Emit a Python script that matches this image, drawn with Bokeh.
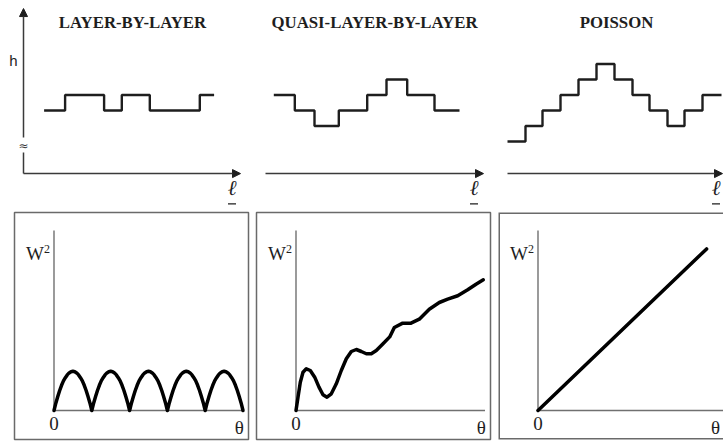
from bokeh.plotting import figure
from bokeh.layouts import row, column
from bokeh.models import Range1d, Arrow, NormalHead
from bokeh.core.properties import value
from bokeh.embed import file_html
from bokeh.resources import INLINE

# ---- growth modes
titles = ["LAYER-BY-LAYER", "QUASI-LAYER-BY-LAYER", "POISSON"]

# ---- surface height profiles h(l): step edges along l and the layer level between edges
lbl_edges = [2.06, 4.16, 8.06, 9.83, 12.63, 17.63, 19.06]
lbl_levels = [0, 1, 0, 1, 0, 1]

qlbl_edges = [0.83, 2.93, 4.90, 7.33, 10.17, 12.10, 14.17, 16.90, 19.40]
qlbl_levels = [1, 0, -1, 0, 1, 2, 1, 0]

poi_edges = [0.0, 1.8, 3.5, 5.3, 7.1, 8.9, 10.7, 12.5, 14.2, 16.0, 17.7, 19.5, 21.4]
poi_levels = [-2, -1, 0, 1, 2, 3, 2, 1, 0, -1, 0, 1]

# ---- roughness W^2 against coverage theta (monolayers)
n_layers = 5
arch_frac = [0.0, 0.05, 0.1, 0.15, 0.2, 0.25, 0.3, 0.35, 0.4, 0.45, 0.5,
             0.55, 0.6, 0.65, 0.7, 0.75, 0.8, 0.85, 0.9, 0.95, 1.0]
arch_w2 = [0.0, 0.19, 0.35, 0.50, 0.63, 0.74, 0.82, 0.89, 0.94, 0.97, 0.98,
           0.97, 0.94, 0.89, 0.82, 0.74, 0.63, 0.50, 0.35, 0.19, 0.0]

quasi_theta = [0.0, 0.053, 0.114, 0.185, 0.272, 0.378, 0.495, 0.608, 0.714,
               0.820, 0.934, 1.066, 1.198, 1.331, 1.463, 1.595, 1.728, 1.860,
               1.992, 2.124, 2.302, 2.479, 2.601, 2.823, 3.042, 3.262, 3.526,
               3.791, 4.013, 4.278, 4.542, 4.762, 4.955]
quasi_w2 = [0.0, 0.333, 0.708, 0.958, 1.043, 1.0, 0.833, 0.583, 0.393,
            0.333, 0.418, 0.668, 1.0, 1.293, 1.475, 1.525, 1.475, 1.418,
            1.418, 1.5, 1.668, 1.84, 2.075, 2.183, 2.183, 2.283, 2.533,
            2.7, 2.783, 2.868, 3.018, 3.158, 3.268]

poisson_theta = [0.0, 4.46]
poisson_w2 = [0.0, 4.04]

# ---- layout constants
TOP_H, BOT_H = 205, 237
AXIS_H = -4.07          # level of the l axis in the height panels
INK = "#1e1e1e"
AX = "#3a3a3a"
BOX = "#6a6a6a"
SERIF = value("Liberation Serif")


def base_fig(width, height, xr, yr, **kw):
    p = figure(width=width, height=height, x_range=xr, y_range=yr,
               output_backend="svg", toolbar_location=None, tools="",
               x_axis_location=None, y_axis_location=None,
               background_fill_color="white", border_fill_color="white", **kw)
    p.grid.visible = False
    return p


def top_panel(width, title, edges, levels, tip, first=False):
    p = base_fig(width, TOP_H, Range1d(-2.3, width / 10 - 2.3), Range1d(-6.13, 7.10),
                 min_border=0, outline_line_color=None)
    p.step(x=edges, y=levels + [levels[-1]], mode="after",
           line_width=2.4, line_color=INK)
    p.add_layout(Arrow(end=NormalHead(size=8, fill_color=INK, line_color=INK),
                       x_start=0, y_start=AXIS_H, x_end=tip, y_end=AXIS_H,
                       line_color=AX, line_width=1.5))
    if first:
        p.line([0, 0], [AXIS_H, -2.71], line_color=AX, line_width=1.5)
        p.add_layout(Arrow(end=NormalHead(size=8, fill_color=INK, line_color=INK),
                           x_start=0, y_start=-1.74, x_end=0, y_end=6.58,
                           line_color=AX, line_width=1.5))
        p.text(x=[0], y=[-2.26], text=["≈"], text_font=value("DejaVu Sans"),
               text_font_size="12px", text_align="center", text_baseline="middle",
               text_color=AX)
        p.text(x=[-1.02], y=[2.71], text=["h"], text_font=value("Liberation Sans"),
               text_font_size="15px", text_align="center", text_color=INK)
    p.text(x=[10.9], y=[5.05], text=[title], text_font=SERIF, text_font_style="bold",
           text_font_size="16.8px", text_align="center", text_color=INK)
    p.text(x=[20.85], y=[-5.8], text=["ℓ"], text_font=value("DejaVu Serif"),
           text_font_style="italic", text_font_size="21px", text_align="center",
           text_color=INK)
    p.segment(x0=[20.45], x1=[21.25], y0=[-6.02], y1=[-6.02], line_color=INK, line_width=1.2)
    return p


def bottom_panel(width, left, right, xs, ys, theta_at=4.9, boxed=True):
    frame_w = width - left - right
    xr = Range1d(-39.5 / 37.8, (frame_w - 39.5) / 37.8)
    yr = Range1d(-0.725, 4.95)
    p = base_fig(width, BOT_H, xr, yr, min_border_left=left, min_border_right=right,
                 min_border_top=7, min_border_bottom=3,
                 outline_line_color=BOX if boxed else None, outline_line_width=1.5)
    if not boxed:
        # open-ended frame: left, top and bottom sides only
        p.line([xr.end + 1, xr.start, xr.start, xr.end + 1],
               [yr.end, yr.end, yr.start, yr.start], line_color=BOX, line_width=3)
    p.line([0, 0], [0, 4.5], line_color="#707070", line_width=1.4)
    p.line([0, 5.0], [0, 0], line_color="#707070", line_width=1.4)
    p.line(xs, ys, line_color="black", line_width=3.5, line_join="round", line_cap="round")
    # axis name W with a raised exponent 2
    p.text(x=[0], y=[3.675], x_offset=-10, text=["W"], text_font=SERIF,
           text_font_size="19px", text_align="right", text_color=INK)
    p.text(x=[0], y=[3.93], x_offset=-10, text=["2"], text_font=SERIF,
           text_font_size="12px", text_align="left", text_color=INK)
    p.text(x=[0, theta_at], y=[-0.16, -0.16], text=["0", "θ"], text_font=SERIF,
           text_font_size="19px", text_align="center", text_baseline="top",
           text_color=INK)
    return p


arch_theta, arch_vals = [], []
for k in range(n_layers):
    arch_theta += [k + f for f in arch_frac]
    arch_vals += arch_w2

t1 = top_panel(242, titles[0], lbl_edges, lbl_levels, 21.7, first=True)
t2 = top_panel(242, titles[1], qlbl_edges, qlbl_levels, 21.8)
t3 = top_panel(239, titles[2], poi_edges, poi_levels, 21.5)

b1 = bottom_panel(252, 14, 4, arch_theta, arch_vals)
b2 = bottom_panel(242, 4, 4, quasi_theta, quasi_w2)
b3 = bottom_panel(229, 4, 0, poisson_theta, poisson_w2, theta_at=4.7, boxed=False)

layout = column(row(t1, t2, t3), row(b1, b2, b3))

open("out.html", "w").write(file_html(layout, INLINE))
